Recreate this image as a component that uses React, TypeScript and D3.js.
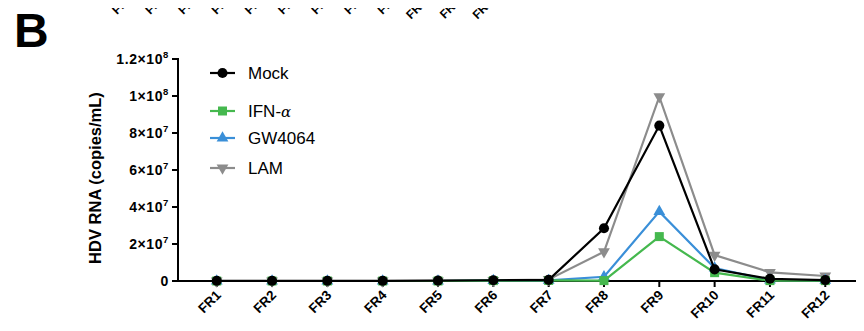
import React from "react";
import * as d3 from "d3";

const categories = ["FR1","FR2","FR3","FR4","FR5","FR6","FR7","FR8","FR9","FR10","FR11","FR12"];
const mock = [0.1e6,0.1e6,0.1e6,0.1e6,0.2e6,0.4e6,0.6e6,28.5e6,84e6,6.3e6,1.2e6,0.5e6];
const ifn = [0,0,0,0,0,0.2e6,0.3e6,0.2e6,24e6,4.5e6,0.2e6,0.2e6];
const gw4064 = [0,0,0,0,0,0.2e6,0.3e6,2.3e6,37.5e6,7e6,0.5e6,0.3e6];
const lam = [0,0,0,0,0.1e6,0.3e6,0.8e6,15.8e6,99.6e6,14e6,4.7e6,2.7e6];
const yTicks = [0, 2e7, 4e7, 6e7, 8e7, 1e8, 1.2e8];
const yTickLabels = [["0",""],["2×10","7"],["4×10","7"],["6×10","7"],["8×10","7"],["1×10","8"],["1.2×10","8"]];
const seriesNames = ["LAM","GW4064","IFN-α","Mock"];
const seriesColors = ["#8c8c8c","#3a8fd8","#45b84e","#000000"];
const seriesShapes = [d3.symbolTriangle, d3.symbolTriangle, d3.symbolSquare, d3.symbolCircle];
const seriesData = [lam, gw4064, ifn, mock];
const legendOrder = [3, 2, 1, 0];
const legendY = [73, 111, 138, 168];

export default function App() {
  const W = 864, H = 331;
  const x = d3.scalePoint<string>().domain(categories).range([178, 864]).padding(0.7);
  const xTop = d3.scalePoint<string>().domain(categories).range([133, 133 + 33.2 * 11]);
  const y = d3.scaleLinear().domain([0, 1.2e8]).range([281, 59]);
  const font = "Liberation Sans, Arial, Helvetica, sans-serif";
  const line = d3.line<number>().x((_, i) => x(categories[i]) as number).y((d) => y(d));
  const sym = (i: number, size: number) => d3.symbol().type(seriesShapes[i]).size(size)() as string;
  const rot = (i: number) => (i === 0 ? 180 : 0);
  const sizes = [60, 60, 81, 80];
  const diag = (ex: number, ey: number) => "M" + (ex - 50) + "," + (ey + 50) + "L" + ex + "," + ey;
  return (
    <div style={{ margin: -8 }}>
      <svg width={W} height={H} style={{ display: "block", fontFamily: font }}>
        <defs>
          {categories.map((c, i) => (
            <path key={"pb" + i} id={"xlab-" + i} d={diag((x(c) as number) + 5, 296)} />
          ))}
          {categories.map((c, i) => (
            <path key={"pt" + i} id={"tlab-" + i} d={diag(xTop(c) as number, -1)} />
          ))}
        </defs>
        <rect width={W} height={H} fill="#fff" />
        <text x={14} y={47} fontSize={48} fontWeight="bold" fill="#000">B</text>
        {categories.map((c, i) => (
          <text key={"top" + c} fontSize={12} fontWeight="bold" fill="#000">
            <textPath href={"#tlab-" + i} startOffset="100%" textAnchor="end">{c}</textPath>
          </text>
        ))}
        {/* axes */}
        <line x1={178} x2={178} y1={58} y2={282} stroke="#000" strokeWidth={2} />
        <line x1={177} x2={864} y1={281} y2={281} stroke="#000" strokeWidth={2} />
        {yTicks.map((t, i) => (
          <g key={"yt" + i}>
            <line x1={172} x2={178} y1={y(t)} y2={y(t)} stroke="#000" strokeWidth={2} />
            <text x={169} y={y(t) + 5} textAnchor="end" fontSize={14} letterSpacing={0.6} fontWeight="bold" fill="#000">
              {yTickLabels[i][0]}
              {yTickLabels[i][1] && <tspan dy={-6} fontSize={9.5}>{yTickLabels[i][1]}</tspan>}
            </text>
          </g>
        ))}
        {categories.map((c, i) => (
          <g key={"xt" + c}>
            <line x1={x(c)} x2={x(c)} y1={281} y2={287} stroke="#000" strokeWidth={2} />
            <text fontSize={13.5} fontWeight="bold" fill="#000">
              <textPath href={"#xlab-" + i} startOffset="100%" textAnchor="end">{c}</textPath>
            </text>
          </g>
        ))}
        <g transform="translate(101,178)">
          <text transform="rotate(-90)" textAnchor="middle" fontSize={16.5} fontWeight="bold" fill="#000">HDV RNA (copies/mL)</text>
        </g>
        {/* series */}
        {seriesData.map((d, s) => (
          <g key={"s" + s}>
            <path d={line(d) as string} fill="none" stroke={seriesColors[s]} strokeWidth={2.2} />
            {d.map((v, i) => (
              <path key={i} d={sym(s, sizes[s])} transform={"translate(" + (x(categories[i]) as number) + "," + y(v) + ") rotate(" + rot(s) + ")"} fill={seriesColors[s]} />
            ))}
          </g>
        ))}
        {/* legend */}
        {legendOrder.map((s, k) => (
          <g key={"lg" + s}>
            <line x1={210} x2={235} y1={legendY[k]} y2={legendY[k]} stroke={seriesColors[s]} strokeWidth={2.2} />
            <path d={sym(s, sizes[s])} transform={"translate(222.5," + legendY[k] + ") rotate(" + rot(s) + ")"} fill={seriesColors[s]} />
            <text x={248} y={legendY[k] + 6} fontSize={17} fill="#000">
              {seriesNames[s] === "IFN-α" ? (<>IFN-<tspan fontFamily="DejaVu Serif" fontStyle="italic" fontSize={15}>α</tspan></>) : seriesNames[s]}
            </text>
          </g>
        ))}
      </svg>
    </div>
  );
}
